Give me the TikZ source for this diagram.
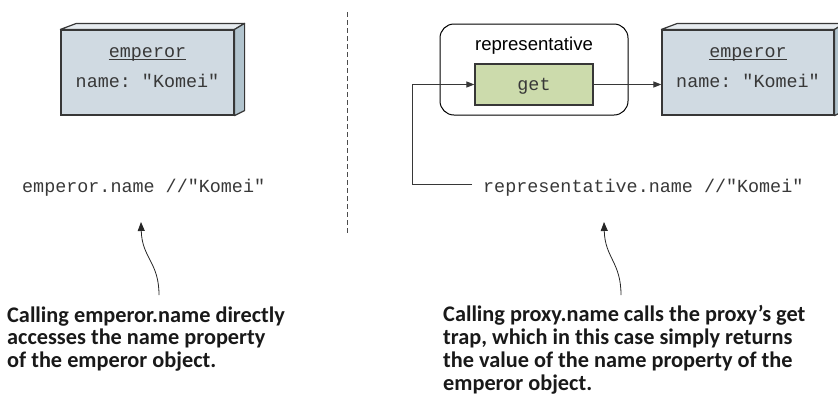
\documentclass[tikz,border=0pt]{standalone}
\usepackage{fontspec}
\setsansfont{Liberation Sans}
\setmonofont{Liberation Mono}
\newfontfamily\notefont{Carlito}
\usetikzlibrary{arrows.meta,calc}
\definecolor{ObjFront}{RGB}{208,218,226}
\definecolor{ObjTop}{RGB}{230,235,239}
\definecolor{ObjSide}{RGB}{178,196,206}
\definecolor{TrapGreen}{RGB}{204,219,172}
\definecolor{EdgeGray}{RGB}{55,55,55}

\begin{document}
\begin{tikzpicture}[x=1pt, y=-1pt, every node/.style={align=center}]
\tikzset{
  objface/.style={draw=EdgeGray, line width=1.2pt, fill=ObjFront, minimum height=85pt, inner sep=0pt},
  objtop/.style={draw=EdgeGray, line width=1.2pt, fill=ObjTop, line join=round},
  objside/.style={draw=EdgeGray, line width=1.2pt, fill=ObjSide, line join=round},
  proxybox/.style={draw, line width=1pt, rounded corners=14pt, minimum width=188pt, minimum height=91pt},
  trapbox/.style={draw=EdgeGray, line width=1.2pt, fill=TrapGreen, minimum width=118pt, minimum height=41pt},
  code/.style={font=\ttfamily\fontsize{18.4}{22}\selectfont, text=black!78, inner sep=0pt},
  proxytitle/.style={font=\sffamily\fontsize{18.6}{22}\selectfont, inner sep=0pt},
  note/.style={font=\notefont\bfseries\fontsize{22.3}{22.7}\selectfont, align=left, anchor=base west, inner sep=0pt, text=black!90},
  conn/.style={-{Triangle[length=8pt,width=6pt]}, line width=1pt, EdgeGray},
  callout/.style={-{Triangle[length=9pt,width=7pt]}, line width=0.8pt, black!85},
  divider/.style={dash pattern=on 5pt off 3pt, line width=1pt, black!70},
  uline/.style={line width=0.9pt, black!78}
}
  \useasboundingbox (0,0) rectangle (838,400);

  % left: plain object
  \node[objface, minimum width=173pt] (lemp) at (147.5,72.5) {};
  \node[code, anchor=base] (lname) at (147.5,57) {emperor};
  \node[code, anchor=base] (lprop) at (147.5,87) {name: "Komei"};

  % right: proxy and object
  \node[proxybox] (rep) at (534,69.5) {};
  \node[proxytitle, anchor=base] (reptitle) at (534,50) {representative};
  \node[trapbox] (get) at (534,84.5) {};
  \node[code, anchor=base] (gettext) at (534,90) {get};
  \node[objface, minimum width=172pt] (remp) at (748,72.5) {};
  \node[code, anchor=base] (rname) at (748,57) {emperor};
  \node[code, anchor=base] (rprop) at (748,87) {name: "Komei"};

  % 3d faces of the objects
  \foreach \b in {lemp,remp}{
    \draw[objtop] (\b.north west) -- ++(16,-6) -- ([shift={(10,-6)}]\b.north east) -- (\b.north east) -- cycle;
    \draw[objside] (\b.north east) -- ++(10,-6) -- ([shift={(10,-5)}]\b.south east) -- (\b.south east) -- cycle;
  }
  \foreach \t in {lname,rname}
    \draw[uline] ([yshift=-2.5pt]\t.base west) -- ([yshift=-2.5pt]\t.base east);

  % code lines
  \node[code, anchor=base west] (lcall) at (22,192) {emperor.name //"Komei"};
  \node[code, anchor=base west, inner xsep=11pt] (rcall) at (472,192) {representative.name //"Komei"};

  \draw[conn] ([yshift=3pt]rcall.west) -- ++(-60,0) |- (get.west);
  \draw[conn] (get.east) -- (get.east -| remp.west);

  \draw[divider] (347,12) -- (347,233);

  % callouts
  \coordinate (ltail) at (159,295);
  \coordinate (ltip) at (141,222);
  \coordinate (rtail) at (621,295);
  \coordinate (rtip) at (604,222);
  \draw[callout] (ltail) .. controls +(0,-33) and +(1,36) .. (ltip);
  \draw[callout] (rtail) .. controls +(0,-33) and +(1,36) .. (rtip);

  % notes, placed by their last line
  \node[note] (lnote) at (7,367.5) {Calling emperor.name directly\\accesses the name property\\of the emperor object.};
  \node[note] (rnote) at (443,390) {Calling proxy.name calls the proxy’s get\\trap, which in this case simply returns\\the value of the name property of the\\emperor object.};
\end{tikzpicture}
\end{document}
